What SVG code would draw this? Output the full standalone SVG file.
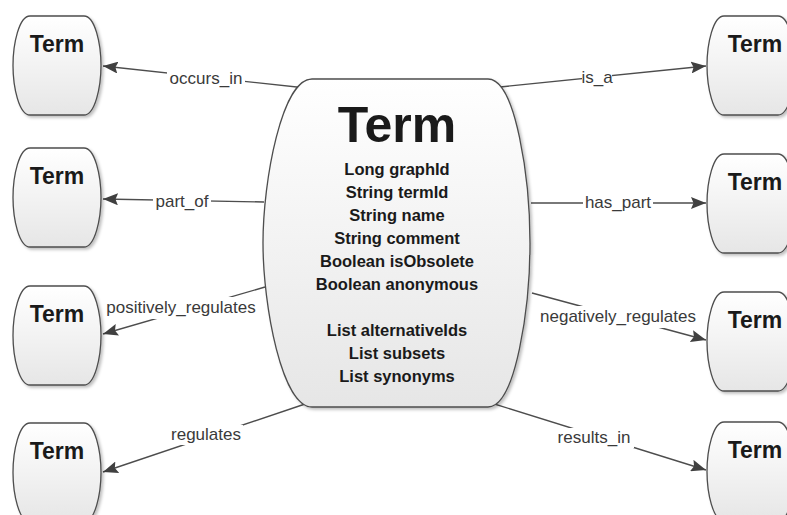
<svg xmlns="http://www.w3.org/2000/svg" width="787" height="515" viewBox="0 0 787 515">
<style>
.node{fill:url(#g);stroke:#4d4d4d;stroke-width:1.3;filter:url(#sh)}
.tb{font-family:"Liberation Sans",Arial,sans-serif;font-weight:bold;fill:#1a1a1a;text-anchor:middle}
.small{font-size:23px}
.big{font-size:50px}
.attr{font-size:16.5px}
.conn line{stroke:#4d4d4d;stroke-width:1.4;fill:none}
.lbl{font-family:"Liberation Sans",Arial,sans-serif;font-size:17px;fill:#3a3a3a;text-anchor:middle}
.bg{fill:#fff}
</style>
<defs>
<linearGradient id="g" x1="0" y1="0" x2="0" y2="1">
<stop offset="0" stop-color="#ffffff"/>
<stop offset="1" stop-color="#e6e6e6"/>
</linearGradient>
<filter id="sh" x="-10%" y="-10%" width="130%" height="130%">
<feDropShadow dx="2" dy="2" stdDeviation="1.5" flood-color="#000" flood-opacity="0.25"/>
</filter>
<path id="box" d="M17,0 H71 C82,0 88,28 88,49.5 C88,71 82,99 71,99 H17 C6,99 0,71 0,49.5 C0,28 6,0 17,0 Z"/>
<marker id="ah" markerUnits="userSpaceOnUse" markerWidth="16" markerHeight="12" refX="15" refY="6" orient="auto">
<path d="M0,0 L15,6 L0,12 L2.5,6 Z" fill="#404040"/>
</marker>
</defs>
<rect width="787" height="515" fill="#fff"/>

<g id="connectors" class="conn">
<line x1="306" y1="88" x2="103" y2="66" marker-end="url(#ah)"/>
<line x1="490" y1="88" x2="706" y2="66" marker-end="url(#ah)"/>
<line x1="264" y1="202" x2="103" y2="199" marker-end="url(#ah)"/>
<line x1="531" y1="203" x2="706" y2="203" marker-end="url(#ah)"/>
<line x1="265" y1="287" x2="103" y2="334" marker-end="url(#ah)"/>
<line x1="532" y1="293" x2="706" y2="340" marker-end="url(#ah)"/>
<line x1="311" y1="402" x2="103" y2="472" marker-end="url(#ah)"/>
<line x1="488" y1="402" x2="706" y2="470" marker-end="url(#ah)"/>
<rect class="bg" x="167" y="70" width="78" height="18"/>
<text class="lbl" x="206" y="84">occurs_in</text>
<rect class="bg" x="582" y="70" width="30" height="18"/>
<text class="lbl" x="597" y="83">is_a</text>
<rect class="bg" x="153" y="193" width="58" height="18"/>
<text class="lbl" x="182" y="207">part_of</text>
<rect class="bg" x="583" y="194" width="70" height="18"/>
<text class="lbl" x="618" y="208">has_part</text>
<rect class="bg" x="103" y="297" width="157" height="22"/>
<text class="lbl" x="181" y="313">positively_regulates</text>
<rect class="bg" x="536" y="306" width="164" height="22"/>
<text class="lbl" x="618" y="322">negatively_regulates</text>
<rect class="bg" x="169" y="425" width="74" height="20"/>
<text class="lbl" x="206" y="440">regulates</text>
<rect class="bg" x="555" y="428" width="79" height="20"/>
<text class="lbl" x="594" y="443">results_in</text>
</g>

<g id="center">
<path class="node" d="M312,79 H488 C516,79 530,180 530,243 C530,306 516,407 488,407 H312 C282,407 263,306 263,243 C263,180 282,79 312,79 Z"/>
<text class="tb big" x="397" y="142">Term</text>
<text class="tb attr" x="397" y="175">Long graphId</text>
<text class="tb attr" x="397" y="198">String termId</text>
<text class="tb attr" x="397" y="221">String name</text>
<text class="tb attr" x="397" y="244">String comment</text>
<text class="tb attr" x="397" y="267">Boolean isObsolete</text>
<text class="tb attr" x="397" y="290">Boolean anonymous</text>
<text class="tb attr" x="397" y="336">List alternativeIds</text>
<text class="tb attr" x="397" y="359">List subsets</text>
<text class="tb attr" x="397" y="382">List synonyms</text>
</g>

<g id="left1"><use href="#box" class="node" x="13" y="16"/><text class="tb small" x="57" y="52">Term</text></g>
<g id="left2"><use href="#box" class="node" x="13" y="148"/><text class="tb small" x="57" y="184">Term</text></g>
<g id="left3"><use href="#box" class="node" x="13" y="286"/><text class="tb small" x="57" y="322">Term</text></g>
<g id="left4"><use href="#box" class="node" x="13" y="423"/><text class="tb small" x="57" y="459">Term</text></g>
<g id="right1"><use href="#box" class="node" x="707" y="16"/><text class="tb small" x="755" y="52">Term</text></g>
<g id="right2"><use href="#box" class="node" x="707" y="154"/><text class="tb small" x="755" y="190">Term</text></g>
<g id="right3"><use href="#box" class="node" x="707" y="292"/><text class="tb small" x="755" y="328">Term</text></g>
<g id="right4"><use href="#box" class="node" x="707" y="422"/><text class="tb small" x="755" y="458">Term</text></g>
</svg>
